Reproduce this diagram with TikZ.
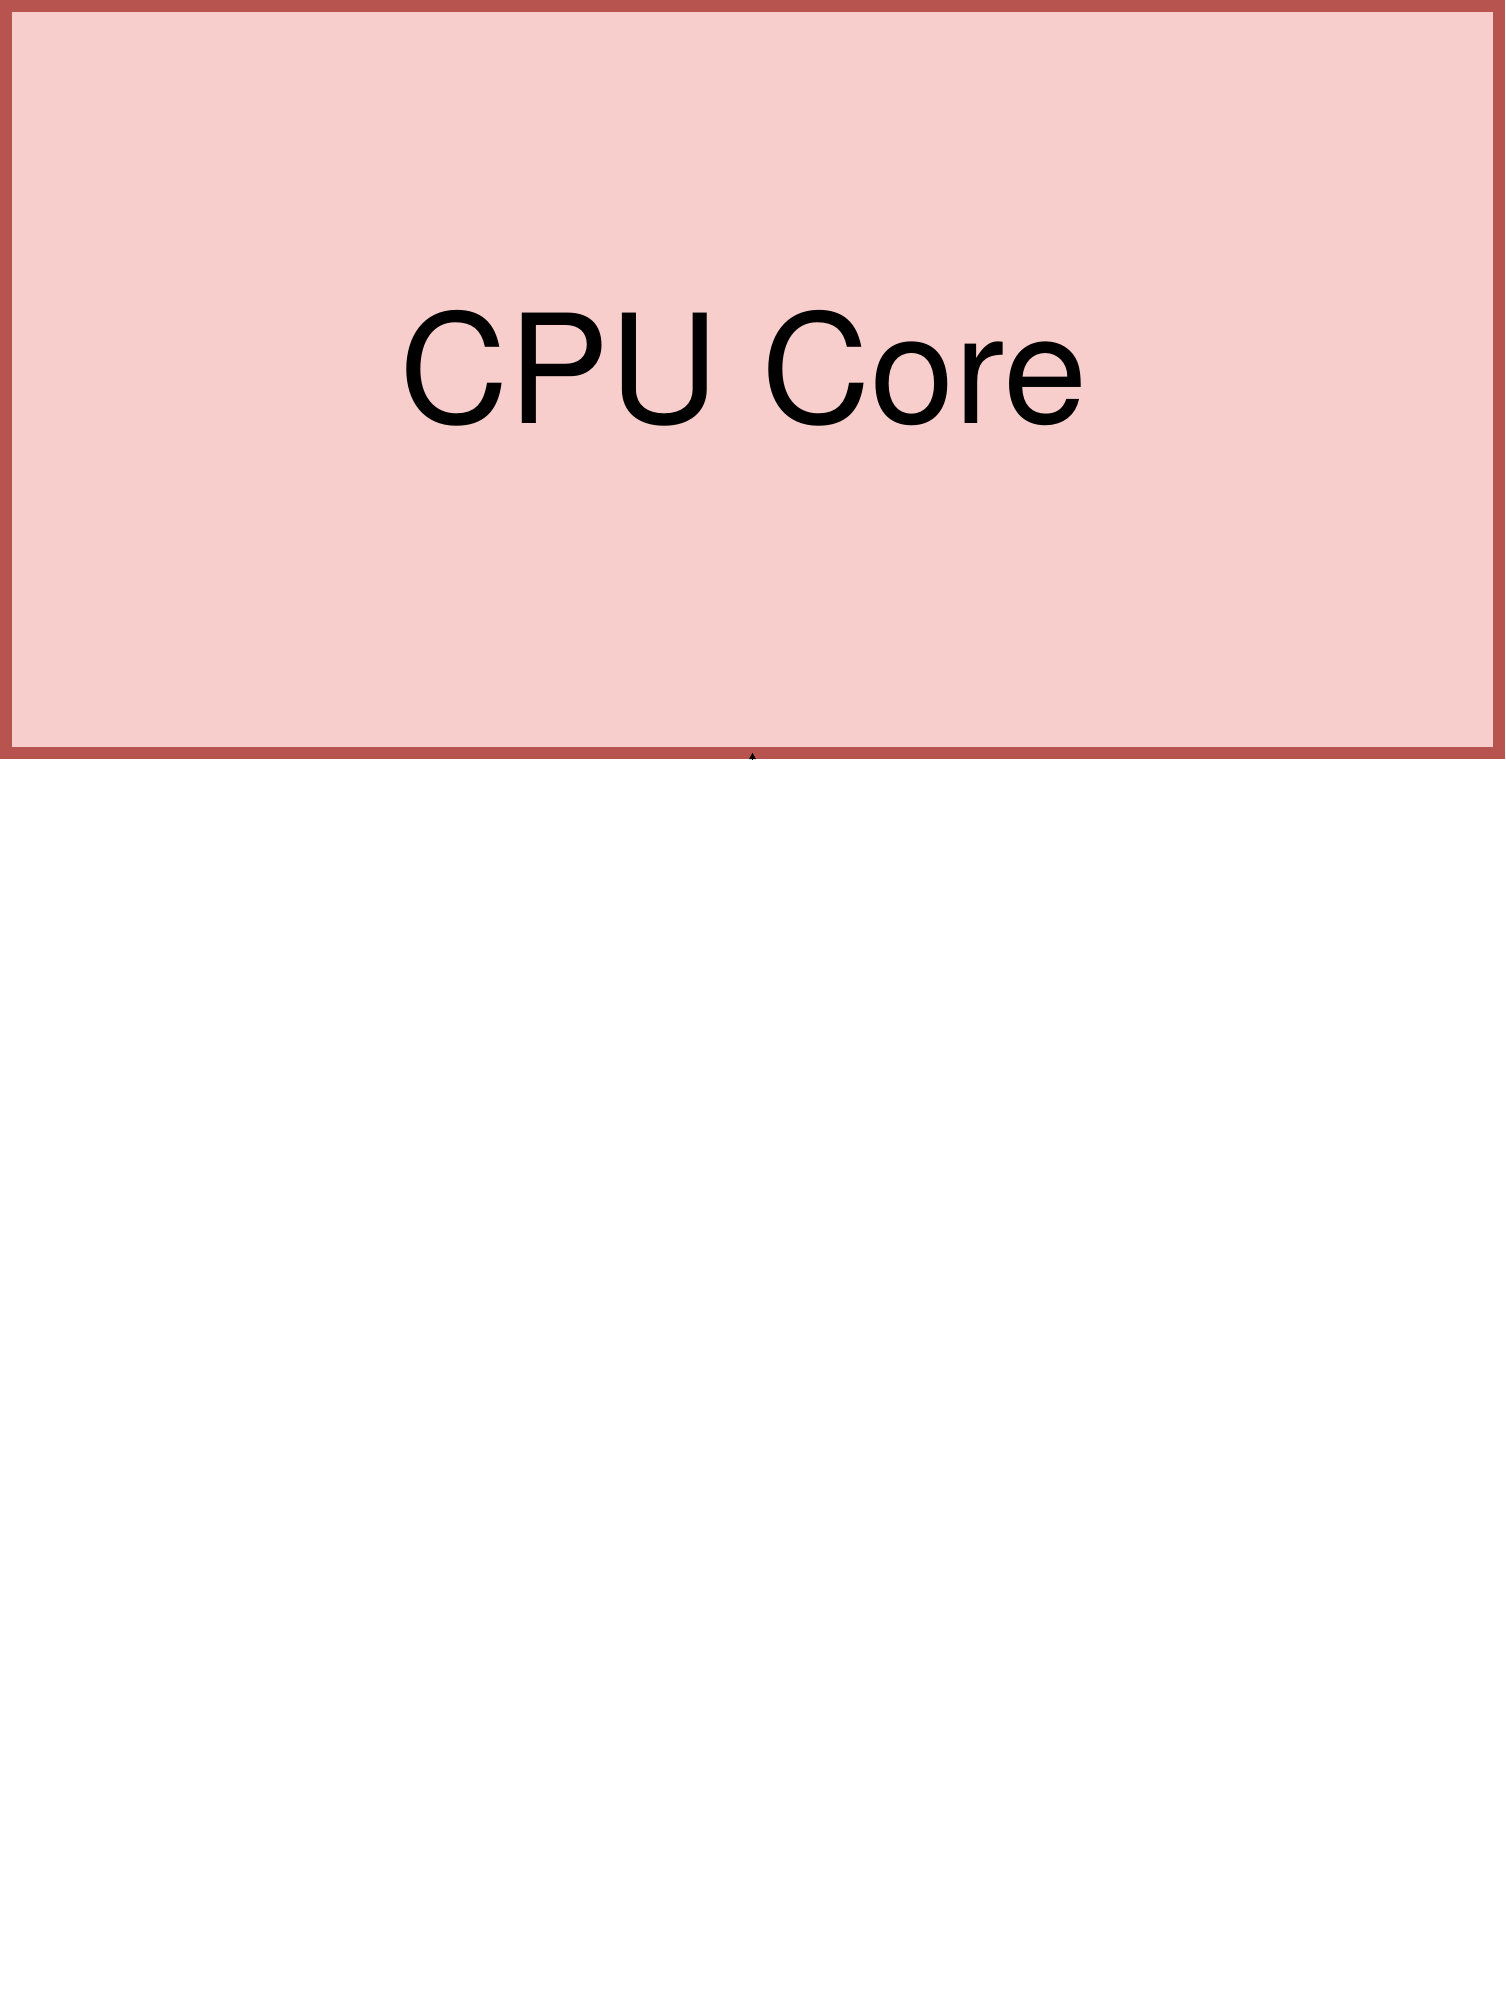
\documentclass[tikz,border=0pt]{standalone}
\usepackage{fontspec}
\setmainfont{TeX Gyre Heros}
\usetikzlibrary{arrows.meta}
\definecolor{boxfill}{HTML}{F8CECC}
\definecolor{boxline}{HTML}{B85450}
\tikzset{
  corebox/.style={draw=boxline, fill=boxfill, line width=12pt, inner sep=0pt, outer sep=0pt,
    minimum width=1493pt, minimum height=747pt},
  bigtext/.style={font=\fontsize{151.5}{180}\selectfont, inner sep=0pt, anchor=base},
  conn/.style={line width=0.4pt, -{Triangle[length=6pt,width=6.5pt]}}
}
\begin{document}
\begin{tikzpicture}[x=1pt,y=1pt]
\useasboundingbox (0,0) rectangle (1505,-2003);
\node[corebox] (cpu) at (752.5,-379.5) {};
\node[bigtext] (lbl) at (743.5,-423) {CPU Core};
\coordinate (src) at (752.5,-759.5);
\draw[conn] (src) -- (cpu.south);
\end{tikzpicture}
\end{document}
